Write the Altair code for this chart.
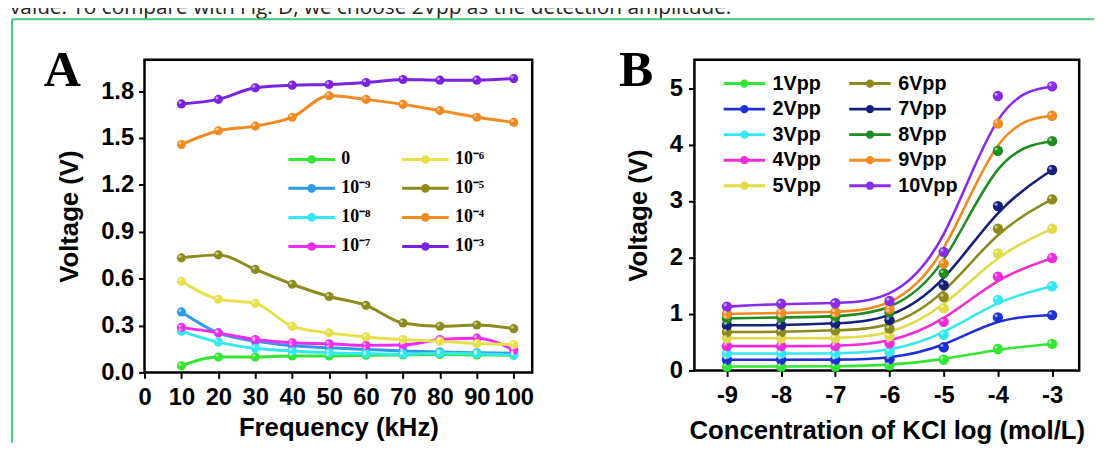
import altair as alt
import pandas as pd

# ---------------- Panel A data ----------------
freq_khz = [10, 20, 30, 40, 50, 60, 70, 80, 90, 100]
conc_labels = ["0", "10⁻⁹", "10⁻⁸", "10⁻⁷", "10⁻⁶", "10⁻⁵", "10⁻⁴", "10⁻³"]
conc_colors = ["#33e633", "#2c9be8", "#33e8f0", "#f02cf0",
               "#e6e04a", "#8c8c1c", "#f28a22", "#7b22e0"]
v_0   = [0.042, 0.099, 0.099, 0.105, 0.105, 0.110, 0.112, 0.114, 0.112, 0.110]
v_1e9 = [0.387, 0.253, 0.200, 0.170, 0.158, 0.147, 0.137, 0.130, 0.126, 0.122]
v_1e8 = [0.263, 0.194, 0.154, 0.137, 0.126, 0.120, 0.116, 0.122, 0.120, 0.110]
v_1e7 = [0.288, 0.253, 0.210, 0.190, 0.183, 0.173, 0.175, 0.210, 0.219, 0.143]
v_1e6 = [0.583, 0.469, 0.442, 0.295, 0.253, 0.227, 0.210, 0.200, 0.185, 0.179]
v_1e5 = [0.733, 0.752, 0.659, 0.564, 0.486, 0.429, 0.316, 0.295, 0.303, 0.280]
v_1e4 = [1.458, 1.546, 1.576, 1.633, 1.770, 1.747, 1.715, 1.675, 1.633, 1.600]
v_1e3 = [1.718, 1.747, 1.821, 1.838, 1.842, 1.855, 1.874, 1.870, 1.870, 1.880]
series_a = [v_0, v_1e9, v_1e8, v_1e7, v_1e6, v_1e5, v_1e4, v_1e3]

# ---------------- Panel B data ----------------
log_conc = [-9, -8, -7, -6, -5, -4, -3]
amp_labels = ["1Vpp", "2Vpp", "3Vpp", "4Vpp", "5Vpp",
              "6Vpp", "7Vpp", "8Vpp", "9Vpp", "10Vpp"]
amp_colors = ["#33e633", "#1f2fd6", "#33e8f0", "#f02cd8", "#e0dc48",
              "#8c8a1c", "#14207a", "#1e8c1e", "#f28a22", "#8a2be8"]
b1  = [0.07, 0.07, 0.07, 0.09, 0.19, 0.38, 0.47]
b2  = [0.19, 0.19, 0.19, 0.20, 0.41, 0.94, 0.98]
b3  = [0.30, 0.30, 0.30, 0.33, 0.63, 1.25, 1.49]
b4  = [0.43, 0.43, 0.43, 0.48, 0.86, 1.66, 1.99]
b5  = [0.57, 0.57, 0.57, 0.61, 1.10, 2.07, 2.51]
b6  = [0.68, 0.68, 0.71, 0.74, 1.30, 2.51, 3.03]
b7  = [0.80, 0.80, 0.83, 0.89, 1.51, 2.91, 3.55]
b8  = [0.92, 0.94, 0.95, 1.03, 1.72, 3.89, 4.06]
b9  = [1.00, 1.02, 1.03, 1.09, 1.89, 4.37, 4.51]
b10 = [1.13, 1.18, 1.19, 1.23, 2.10, 4.86, 5.03]
series_b = [b1, b2, b3, b4, b5, b6, b7, b8, b9, b10]

caption = "value. To compare with Fig. D, we choose 2Vpp as the detection amplitude."

# ---------------- tables ----------------
dfA = pd.DataFrame([
    {"freq": f, "volt": v, "conc": lab}
    for lab, vals in zip(conc_labels, series_a) for f, v in zip(freq_khz, vals)
])
dfB = pd.DataFrame([
    {"logc": c, "volt": v, "amp": lab}
    for lab, vals in zip(amp_labels, series_b) for c, v in zip(log_conc, vals)
])
one = pd.DataFrame({"t": [caption]})


def sym_path(a, r, r2):
    return (f"M{-a},0L{a},0"
            f"M{r},0A{r},{r} 0 1,1 {-r},0A{r},{r} 0 1,1 {r},0Z"
            f"M{r2},0A{r2},{r2} 0 1,1 {-r2},0A{r2},{r2} 0 1,1 {r2},0Z")


GREEN_BOX = "#3ccf7e"
SANS = "Liberation Sans"
SERIF = "Liberation Serif"

# ---------------- Panel A ----------------
xA = alt.X("freq:Q", scale=alt.Scale(domain=[0, 105], nice=False, zero=False),
           axis=alt.Axis(values=list(range(0, 101, 10)), format="d", title="Frequency (kHz)",
                         labelOverlap=False, labelFlush=False, labelPadding=7, titlePadding=6))
yA = alt.Y("volt:Q", scale=alt.Scale(domain=[0, 2.0], nice=False),
           axis=alt.Axis(values=[0, 0.3, 0.6, 0.9, 1.2, 1.5, 1.8], format=".1f", title="Voltage (V)",
                         labelOverlap=False, labelFlush=False, labelPadding=5, titlePadding=18))
scA = alt.Scale(domain=conc_labels, range=conc_colors)
legA = alt.Legend(orient="none", legendX=159.5, legendY=91, columns=2, title=None, padding=0,
                  symbolType=sym_path(2.94, 0.36, 0.15), symbolSize=256, symbolStrokeWidth=3,
                  labelFont=SERIF, labelFontWeight="bold", labelFontSize=18, labelColor="black",
                  labelOffset=20.5, rowPadding=10.4, columnPadding=25, labelLimit=200)

lineA = alt.Chart(dfA).mark_line(interpolate="monotone", strokeWidth=3).encode(
    x=xA, y=yA, color=alt.Color("conc:N", scale=scA, legend=legA, sort=conc_labels))
ptA = alt.Chart(dfA).mark_circle(size=85, opacity=1).encode(
    x=xA, y=yA, color=alt.Color("conc:N", scale=scA, legend=None, sort=conc_labels))
hlA = alt.Chart(dfA).mark_circle(size=9, opacity=0.55, color="white", xOffset=-1.5, yOffset=-1.5).encode(
    x=xA, y=yA)

capA = alt.Chart(one).mark_text(align="left", baseline="top", font="Open Sans", fontSize=21,
                                color="#222222").encode(
    x=alt.value(-136), y=alt.value(-63), text="t:N")
boxL = alt.Chart(one).mark_rule(color=GREEN_BOX, strokeWidth=2).encode(
    x=alt.value(-134), y=alt.value(-41), y2=alt.value(387))
boxT = alt.Chart(one).mark_rule(color=GREEN_BOX, strokeWidth=2).encode(
    x=alt.value(-134), x2=alt.value(960), y=alt.value(-41))
letA = alt.Chart(one).mark_text(text="A", font=SERIF, fontWeight="bold", fontSize=52,
                                align="center", baseline="alphabetic", color="black").encode(
    x=alt.value(-83), y=alt.value(26))

panelA = alt.layer(capA, boxL, boxT, letA, lineA, ptA, hlA).properties(width=392, height=316)

# ---------------- Panel B ----------------
xB = alt.X("logc:Q", scale=alt.Scale(domain=[-9.6, -2.5], nice=False, zero=False),
           axis=alt.Axis(values=log_conc, labelExpr="datum.value + ''",
                         title="Concentration of KCl log (mol/L)",
                         labelOverlap=False, labelFlush=False, labelPadding=7, titlePadding=11))
yB = alt.Y("volt:Q", scale=alt.Scale(domain=[0, 5.5], nice=False),
           axis=alt.Axis(values=[0, 1, 2, 3, 4, 5], format="d", title="Voltage (V)",
                         labelOverlap=False, labelFlush=False, labelPadding=6, titlePadding=18))
scB = alt.Scale(domain=amp_labels, range=amp_colors)
legB = alt.Legend(orient="none", legendX=40.5, legendY=14, columns=2, title=None, padding=0,
                  symbolType=sym_path(3.0, 0.39, 0.15), symbolSize=196, symbolStrokeWidth=3,
                  labelFont=SANS, labelFontWeight="bold", labelFontSize=20, labelColor="black",
                  labelOffset=18.5, rowPadding=5.8, columnPadding=22, labelLimit=200)

lineB = alt.Chart(dfB).mark_line(interpolate="basis", strokeWidth=2.6).encode(
    x=xB, y=yB, color=alt.Color("amp:N", scale=scB, legend=legB, sort=amp_labels))
ptB = alt.Chart(dfB).mark_circle(size=110, opacity=1).encode(
    x=xB, y=yB, color=alt.Color("amp:N", scale=scB, legend=None, sort=amp_labels))
hlB = alt.Chart(dfB).mark_circle(size=10, opacity=0.55, color="white", xOffset=-1.8, yOffset=-1.8).encode(
    x=xB, y=yB)
letB = alt.Chart(one).mark_text(text="B", font=SERIF, fontWeight="bold", fontSize=52,
                                align="center", baseline="alphabetic", color="black").encode(
    x=alt.value(-59), y=alt.value(26))

panelB = alt.layer(letB, lineB, ptB, hlB).properties(width=389, height=314)

chart = alt.hconcat(panelA, panelB, spacing=164, bounds="flush").resolve_scale(
    color="independent"
).properties(
    padding={"top": -15, "left": 0, "right": 0, "bottom": 0},
    background="white",
).configure_view(
    stroke="black", strokeWidth=2.5
).configure_axis(
    grid=False, domain=False, tickSize=6, tickWidth=2, tickColor="black",
    labelFont=SANS, labelFontWeight="bold", labelFontSize=24, labelColor="black",
    titleFont=SANS, titleFontWeight="bold", titleFontSize=26, titleColor="black",
)

chart.save("out.html", embed_options={"renderer": "svg", "actions": False})
